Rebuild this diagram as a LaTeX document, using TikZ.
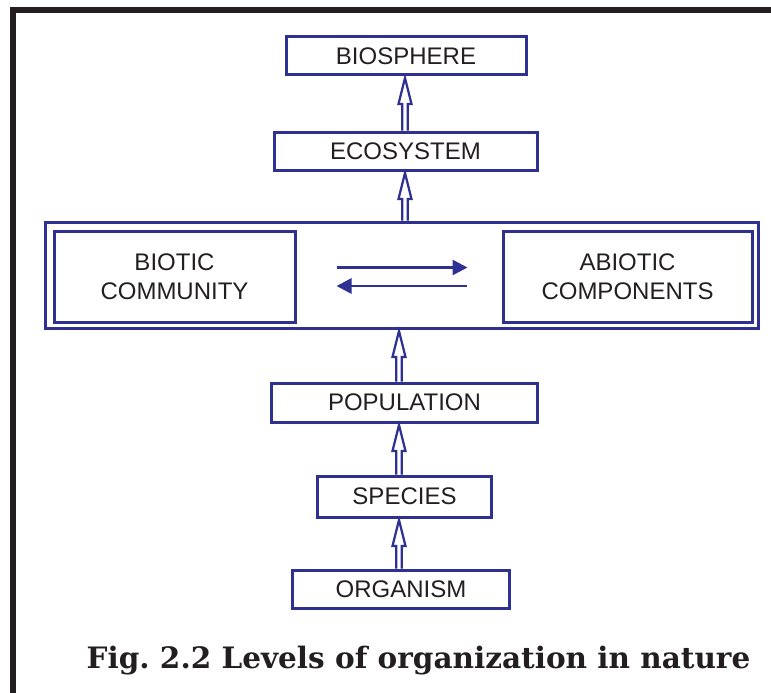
\documentclass[tikz,border=0pt]{standalone}
\usepackage{fontspec}
\setmainfont{Liberation Sans}
\newfontfamily\capfont{DejaVu Serif}
\usetikzlibrary{calc,arrows.meta}
\definecolor{boxblue}{RGB}{46,49,146}
\definecolor{inkdark}{RGB}{35,31,32}
\newcommand{\hollowup}[2]{%
  \draw[hollow] ($(#1)+(-2.8,0)$) -- ($(#2)+(-2.8,26)$) -- ($(#2)+(-6.5,26)$) -- (#2)
     -- ($(#2)+(6.5,26)$) -- ($(#2)+(2.8,26)$) -- ($(#1)+(2.8,0)$);}
\begin{document}
\begin{tikzpicture}[x=1pt,y=-1pt,
  lvl/.style={draw=boxblue,line width=3pt,fill=white,inner sep=0pt,
     text=inkdark,font=\fontsize{24}{29}\selectfont,align=center},
  hollow/.style={draw=boxblue,line width=2.2pt,line join=miter},
  harr/.style={draw=boxblue,line width=2.8pt,-{Triangle[length=15pt,width=15pt]}}]
\useasboundingbox (0,0) rectangle (771,693);
\fill[white] (0,0) rectangle (771,693);
% frame
\draw[inkdark,line width=6pt] (13,693) -- (13,10) -- (771,10);
% nodes
\node[lvl,minimum width=713pt,minimum height=106pt] (outer) at (401.5,275) {};
\node[lvl,minimum width=241pt,minimum height=91pt] (biotic) at (174.5,276.5) {BIOTIC\\COMMUNITY};
\node[lvl,minimum width=249pt,minimum height=91pt] (abiotic) at (627.5,276.5) {ABIOTIC\\COMPONENTS};
\node[lvl,minimum width=240pt,minimum height=38pt] (bio) at (406,56) {BIOSPHERE};
\node[lvl,minimum width=263pt,minimum height=38pt] (eco) at (405.5,151) {ECOSYSTEM};
\node[lvl,minimum width=266pt,minimum height=39pt] (pop) at (404.5,402.5) {POPULATION};
\node[lvl,minimum width=174pt,minimum height=41pt] (sp) at (404.5,496.5) {SPECIES};
\node[lvl,minimum width=217pt,minimum height=38pt] (org) at (401,589) {ORGANISM};
% hollow arrows
\hollowup{$(eco.north)+(-0.5,0)$}{$(bio.south)+(-1,1.5)$}
\hollowup{$(outer.north)+(3.5,0)$}{$(eco.south)+(-0.5,1.5)$}
\hollowup{$(pop.north)+(-5.5,0)$}{$(outer.south)+(-2.5,1.5)$}
\hollowup{$(sp.north)+(-5.5,0)$}{$(pop.south)+(-5.5,1.5)$}
\hollowup{$(org.north)+(-2,0)$}{$(sp.south)+(-5.5,1.5)$}
% exchange arrows
\draw[harr] ($(biotic.east)+(40,-9)$) -- ($(abiotic.west)+(-34,-9)$);
\draw[harr] ($(abiotic.west)+(-35,9.5)$) -- ($(biotic.east)+(40,9.5)$);
% caption
\node[inner sep=0pt,text=inkdark,font=\capfont\bfseries\fontsize{29.5}{34}\selectfont] (cap) at (418.5,661) {Fig.\ 2.2 Levels of organization in nature};
\end{tikzpicture}
\end{document}
